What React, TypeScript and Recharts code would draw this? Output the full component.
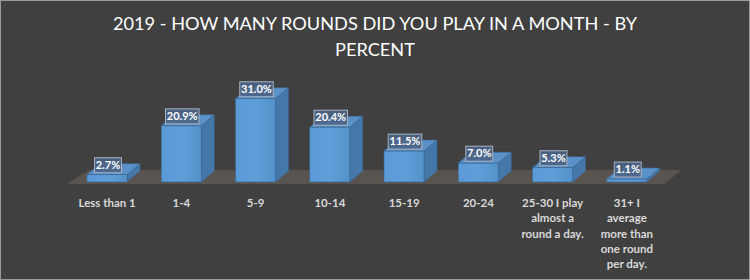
import { Bar, BarChart, LabelList, XAxis, YAxis, usePlotArea } from "recharts"

// tick labels keep the line breaks the original chart shows
const categories = [
  "Less than 1",
  "1-4",
  "5-9",
  "10-14",
  "15-19",
  "20-24",
  "25-30 I play\nalmost a\nround a day.",
  "31+ I\naverage\nmore than\none round\nper day.",
]
const percents = [2.7, 20.9, 31.0, 20.4, 11.5, 7.0, 5.3, 1.1]
const titleLines = ["2019 - HOW MANY ROUNDS DID YOU PLAY IN A MONTH - BY", "PERCENT"]

const data = categories.map((name, i) => ({ name, value: percents[i] }))

const DEPTH_X = 13
const DEPTH_Y = 11

const Bar3D = (props: any) => {
  const { x, y, width, height } = props
  if (height == null || width == null) return null
  const top = `${x},${y} ${x + DEPTH_X},${y - DEPTH_Y} ${x + width + DEPTH_X},${y - DEPTH_Y} ${x + width},${y}`
  const side = `${x + width},${y} ${x + width + DEPTH_X},${y - DEPTH_Y} ${x + width + DEPTH_X},${y + height - DEPTH_Y} ${x + width},${y + height}`
  return (
    <g>
      <polygon points={side} fill="#4577a8" stroke="#3b6792" strokeWidth={0.6} />
      <polygon points={top} fill="#5a91c8" stroke="#3b6792" strokeWidth={0.6} />
      <rect x={x} y={y} width={width} height={height} fill="url(#frontGrad)" stroke="#3b6792" strokeWidth={0.6} />
    </g>
  )
}

const Floor = () => {
  const area = usePlotArea()
  if (!area) return null
  const left = area.x - 3
  const right = area.x + area.width
  const front = area.y + area.height + 2
  const back = front - 14
  const pts = `${left},${front} ${left + 22},${back} ${right + 18},${back} ${right},${front}`
  return <polygon points={pts} fill="#59544f" />
}

const ValueLabel = (props: any) => {
  const { x, y, width, value } = props
  const text = `${Number(value).toFixed(1)}%`
  const w = text.length * 6.6 + 0.5
  const h = 15
  const cx = x + width / 2 + 1
  const bottom = y - 2
  return (
    <g>
      <rect x={cx - w / 2} y={bottom - h} width={w} height={h} fill="#4b6486" fillOpacity={0.9} stroke="#a7b3c2" strokeWidth={1} />
      <text x={cx} y={bottom - 4} textAnchor="middle" fill="#ffffff" fontSize={11} fontWeight="bold" fontFamily="Lato, sans-serif">
        {text}
      </text>
    </g>
  )
}

const CategoryTick = (props: any) => {
  const { x, y, payload } = props
  const lines = String(payload.value).split("\n")
  return (
    <text
      x={x}
      y={y + 17}
      textAnchor="middle"
      fill="#d9d9d9"
      fontSize={11.5}
      fontWeight="bold"
      fontFamily="Lato, sans-serif"
    >
      {lines.map((line, i) => (
        <tspan key={i} x={x} dy={i === 0 ? 0 : 15.3}>
          {line}
        </tspan>
      ))}
    </text>
  )
}

export default function App() {
  return (
    <div
      style={{
        position: "absolute",
        left: 0,
        top: 0,
        width: 750,
        height: 280,
        boxSizing: "border-box",
        background: "#404040",
        border: "1px solid #9c9c9c",
        overflow: "hidden",
      }}
    >
      <div
        style={{
          position: "absolute",
          left: 0,
          top: 9,
          width: 748,
          textAlign: "center",
          color: "#ffffff",
          fontFamily: "Lato, sans-serif",
          fontSize: 18.2,
          lineHeight: "26px",
        }}
      >
        {titleLines.map((line) => (
          <div key={line}>{line}</div>
        ))}
      </div>
      <div style={{ position: "absolute", left: -1, top: -1 }}>
        <BarChart width={750} height={280} data={data} margin={{ top: 88, right: 86, left: 70, bottom: 0 }}>
          <defs>
            <linearGradient id="frontGrad" x1="0" y1="0" x2="1" y2="0">
              <stop offset="0%" stopColor="#5b9ad6" />
              <stop offset="50%" stopColor="#5e9ed9" />
              <stop offset="100%" stopColor="#5592cc" />
            </linearGradient>
          </defs>
          <Floor />
          <XAxis dataKey="name" axisLine={false} tickLine={false} height={98} interval={0} tick={<CategoryTick />} />
          <YAxis hide domain={[0, 35]} />
          <Bar dataKey="value" barSize={40} shape={<Bar3D />} isAnimationActive={false}>
            <LabelList dataKey="value" content={<ValueLabel />} />
          </Bar>
        </BarChart>
      </div>
    </div>
  )
}
